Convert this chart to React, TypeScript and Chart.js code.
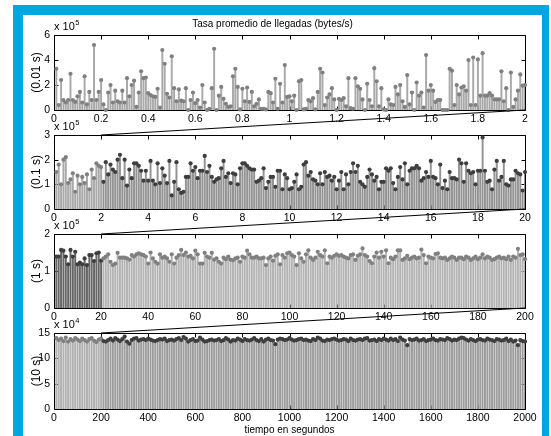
import React, { useEffect, useRef } from 'react';
import { Chart, registerables } from 'chart.js';

Chart.register(...registerables);

const FONT = '"Liberation Sans", Arial, Helvetica, sans-serif';
const BLUE = '#00a5e3';
const WIDTH = 551;
const HEIGHT = 436;

// Mean arrival rate, averaged over windows of 0.01 s (x 1e5 bytes/s)
const RATE_10MS = [
  3.3, 0.4, 2.4, 0.8, 0.6, 0.8, 2.9, 0.8, 0.65, 1.1,
  1.45, 0.6, 2.7, 0.45, 1.45, 0.8, 5.2, 0.8, 1.45, 2.4,
  0.45, 0, 1.4, 2.0, 0.6, 1.55, 0.7, 0.6, 1.55, 0.6,
  2.55, 1.1, 2.0, 2.35, 0.25, 1.4, 3.1, 2.55, 2.6, 1.35,
  1.2, 1.1, 1.05, 1.7, 0.2, 4.8, 3.7, 1.3, 1.0, 4.3,
  1.75, 0.7, 1.65, 0.75, 0.7, 1.75, 0, 0.8, 1.4, 0.55,
  0.8, 0.2, 2.0, 0.6, 0, 0.1, 1.75, 4.9, 0, 1.15,
  1.85, 0.9, 0.5, 0.25, 0.3, 2.7, 3.3, 1.85, 0.05, 1.7,
  0.7, 1.8, 0.65, 1.45, 0.3, 0.5, 0.85, 0.1, 0.1, 0.05,
  1.45, 1.35, 0.6, 2.5, 0.1, 2.1, 0.6, 3.6, 1.05, 1.1,
  0.7, 1.15, 0, 2.3, 2.4, 0.05, 0.1, 0.8, 0.7, 0.95,
  0.05, 1.45, 3.3, 3.0, 0.4, 1.0, 1.25, 1.75, 0.85, 0,
  0.9, 0.8, 0.95, 0.3, 2.55, 0.15, 0.1, 2.55, 1.9, 1.7,
  0.85, 0, 2.1, 0.8, 0.3, 3.35, 2.3, 0.3, 1.75, 0.05,
  0, 0.85, 0.45, 0.4, 1.85, 1.25, 2.0, 0.7, 0.25, 2.8,
  0.45, 1.4, 0, 2.2, 1.15, 1.4, 0.2, 4.4, 1.55, 2.0,
  1.55, 0.65, 0.8, 0.8, 0, 0, 0, 3.3, 3.15, 0.4,
  2.0, 1.25, 1.8, 1.9, 1.55, 4.0, 0.4, 4.2, 0.4, 4.05,
  1.15, 4.55, 1.15, 1.15, 1.35, 1.15, 0.85, 0.85, 0.85, 3.1,
  0.7, 1.75, 0, 3.0, 0.25, 0.85, 1.55, 2.85, 1.95, 2.0,
];

// Windows of 0.1 s (x 1e5 bytes/s)
const RATE_100MS = [
  1.5, 1.8, 1.0, 2.0, 2.1, 1.05, 1.2, 1.45, 0.7, 1.35,
  1.0, 1.3, 1.05, 1.4, 0.8, 1.6, 1.25, 1.85, 1.75, 1.7,
  1.1, 1.9, 1.4, 1.8, 1.6, 1.5, 2.0, 2.2, 1.25, 2.0,
  0.95, 1.6, 1.25, 1.85, 1.85, 1.75, 1.55, 1.15, 1.55, 1.15,
  1.95, 1.15, 1.0, 1.85, 1.05, 1.65, 1.35, 1.05, 1.95, 0.55,
  1.1, 1.9, 0.8, 0.65, 0.7, 1.3, 1.3, 1.85, 1.55, 1.7,
  1.25, 1.55, 1.55, 2.15, 1.5, 1.75, 1.3, 1.1, 1.2, 1.25,
  1.65, 1.95, 1.3, 1.45, 1.05, 1.45, 1.4, 1.0, 1.65, 1.85,
  1.85, 1.75, 1.65, 1.6, 1.6, 1.1, 1.15, 1.25, 1.65, 0.85,
  1.1, 1.3, 1.3, 0.9, 1.55, 1.55, 0.8, 1.4, 1.25, 0.8,
  0.85, 1.1, 1.4, 0.8, 0.9, 1.8, 1.9, 1.35, 1.5, 1.2,
  1.15, 1.0, 1.45, 1.0, 1.5, 1.3, 1.35, 1.15, 1.3, 0.8,
  1.15, 1.5, 0.8, 1.4, 1.0, 1.5, 1.85, 1.5, 1.75, 1.1,
  1.0, 0.9, 1.3, 1.6, 1.4, 1.15, 1.3, 0.8, 1.1, 1.1,
  1.65, 1.55, 1.65, 1.05, 0.8, 1.3, 1.7, 1.2, 1.85, 1.0,
  1.55, 1.65, 1.65, 1.75, 1.65, 1.15, 1.25, 1.5, 1.3, 1.95,
  1.3, 1.25, 1.0, 1.8, 0.85, 1.15, 0.8, 1.5, 1.25, 1.25,
  1.2, 2.0, 1.85, 1.1, 1.85, 1.55, 1.45, 1.5, 1.0, 1.55,
  1.55, 2.9, 1.55, 1.1, 1.15, 0.8, 1.6, 1.95, 1.15, 1.3,
  1.95, 1.0, 0.95, 1.2, 1.2, 1.55, 1.45, 1.4, 0.75, 1.5,
];

// Windows of 1 s (x 1e5 bytes/s)
const RATE_1S = [
  1.39, 1.39, 1.57, 1.55, 1.39, 1.18, 1.57, 1.39, 1.52, 1.18,
  1.23, 1.18, 1.34, 1.16, 1.43, 1.43, 1.27, 1.48, 1.50, 1.28,
  1.34, 1.39, 1.45, 1.25, 1.16, 1.20, 1.49, 1.36, 1.36, 1.36,
  1.34, 1.31, 1.43, 1.39, 1.45, 1.48, 1.45, 1.43, 1.39, 1.20,
  1.50, 1.34, 1.25, 1.20, 1.45, 1.36, 1.39, 1.34, 1.25, 1.45,
  1.20, 1.36, 1.43, 1.57, 1.43, 1.50, 1.39, 1.41, 1.34, 1.55,
  1.45, 1.20, 1.20, 1.49, 1.39, 1.36, 1.49, 1.31, 1.34, 1.25,
  1.20, 1.36, 1.32, 1.39, 1.31, 1.29, 1.34, 1.36, 1.25, 1.39,
  1.36, 1.55, 1.45, 1.36, 1.36, 1.39, 1.34, 1.34, 1.36, 1.16,
  1.34, 1.39, 1.28, 1.41, 1.45, 1.18, 1.43, 1.36, 1.48, 1.50,
  1.43, 1.39, 1.16, 1.48, 1.34, 1.25, 1.45, 1.56, 1.36, 1.30,
  1.36, 1.52, 1.43, 1.39, 1.56, 1.21, 1.39, 1.36, 1.41, 1.45,
  1.41, 1.43, 1.39, 1.36, 1.34, 1.43, 1.45, 1.30, 1.41, 1.45,
  1.61, 1.43, 1.39, 1.27, 1.21, 1.39, 1.50, 1.36, 1.52, 1.39,
  1.56, 1.21, 1.36, 1.32, 1.39, 1.56, 1.56, 1.30, 1.34, 1.41,
  1.32, 1.36, 1.39, 1.34, 1.36, 1.58, 1.43, 1.21, 1.39, 1.36,
  1.34, 1.46, 1.48, 1.36, 1.34, 1.36, 1.30, 1.34, 1.39, 1.36,
  1.30, 1.36, 1.36, 1.32, 1.39, 1.36, 1.30, 1.34, 1.39, 1.32,
  1.36, 1.45, 1.34, 1.39, 1.36, 1.30, 1.32, 1.36, 1.39, 1.34,
  1.36, 1.32, 1.39, 1.30, 1.39, 1.36, 1.60, 1.43, 1.45, 1.32,
];

// Windows of 10 s (x 1e4 bytes/s)
const RATE_10S = [
  14.0, 13.6, 13.9, 13.4, 14.1, 13.3, 13.8, 13.5, 14.0, 13.7,
  13.4, 13.9, 13.6, 13.3, 13.8, 14.0, 13.5, 13.2, 13.7, 13.9,
  13.4, 13.3, 13.6, 13.9, 13.5, 14.0, 13.7, 13.4, 13.8, 14.3,
  13.3, 12.9, 13.6, 13.9, 14.0, 13.5, 13.7, 13.8, 13.6, 13.9,
  13.7, 13.5, 13.4, 13.6, 13.8, 13.7, 13.9, 13.4, 13.6, 13.7,
  13.5, 13.8, 14.0, 13.6, 14.2, 13.9, 13.3, 13.6, 13.8, 13.4,
  13.5, 14.1, 13.7, 13.3, 13.4, 13.6, 13.7, 13.5, 13.6, 13.8,
  13.4, 13.6, 14.0, 13.7, 13.3, 13.6, 13.5, 13.9, 13.7, 13.4,
  13.8, 13.6, 13.5, 13.7, 14.0, 13.6, 13.4, 13.8, 13.3, 13.7,
  13.9, 13.6, 13.5, 12.8, 13.7, 13.9, 13.8, 13.6, 13.7, 14.0,
  13.7, 13.5, 13.6, 13.8, 13.9, 13.6, 13.7, 13.5, 13.4, 13.8,
  13.6, 14.1, 13.9, 13.5, 13.4, 13.7, 13.6, 13.8, 13.9, 13.7,
  13.5, 13.6, 13.8, 13.7, 13.4, 13.9, 13.6, 13.5, 13.7, 13.8,
  13.6, 13.9, 14.0, 13.5, 13.6, 13.7, 13.4, 13.8, 13.6, 13.9,
  13.7, 13.5, 13.9, 13.6, 13.8, 13.4, 14.1, 13.7, 13.5, 12.6,
  13.8, 13.6, 13.7, 13.9, 13.5, 13.6, 13.8, 13.4, 13.6, 13.7,
  13.9, 13.6, 13.5, 13.8, 13.7, 13.6, 14.0, 13.8, 13.5, 13.7,
  13.6, 13.9, 14.1, 14.0, 13.7, 13.5, 13.8, 13.6, 13.4, 13.7,
  13.8, 13.6, 13.5, 13.9, 13.7, 13.6, 13.4, 13.8, 13.7, 13.5,
  13.6, 13.9, 13.4, 13.7, 13.3, 13.5, 12.6, 13.6, 13.4, 13.3,
];

const TITLE = 'Tasa promedio de llegadas (bytes/s)';
const X_LABEL = 'tiempo en segundos';
const Y_LABELS = ['(0.01 s)', '(0.1 s)', '(1 s)', '(10 s)'];
const EXPONENTS = ['5', '5', '5', '4'];
const STEPS = [0.01, 0.1, 1, 10];
const X_MAX = [2, 20, 200, 2000];
const X_TICK_STEP = [0.2, 2, 20, 200];
const Y_MAX = [6, 3, 2, 15];
const Y_TICK_STEP = [2, 1, 1, 5];

// First 20 samples of each panel cover the whole span of the panel above
const HEAD = 20;

const GRAY_MARK = '#808080';
const DARK_MARK = '#3e3e3e';

type PanelSpec = {
  values: number[];
  step: number;
  xMax: number;
  xTick: number;
  yMax: number;
  yTick: number;
  yLabel: string;
  exponent: string;
  top: number;
  bottom: number;
  title?: string;
  xLabel?: string;
  prevBottom?: number;
  zoomTo?: number;
  headMark: string;
  headStem: string;
  mainMark: string;
  mainStem: string;
};

const PLOT_LEFT = 54;
const PLOT_RIGHT = 525;
const PAD_LEFT = 20;
const TOPS = [35, 135, 234, 333];
const BOTTOMS = [110, 209, 308, 409];

const PANELS: PanelSpec[] = [
  {
    values: RATE_10MS, step: STEPS[0], xMax: X_MAX[0], xTick: X_TICK_STEP[0], yMax: Y_MAX[0], yTick: Y_TICK_STEP[0],
    yLabel: Y_LABELS[0], exponent: EXPONENTS[0], top: TOPS[0], bottom: BOTTOMS[0], title: TITLE,
    headMark: GRAY_MARK, headStem: '#a9a9a9', mainMark: GRAY_MARK, mainStem: '#a9a9a9',
  },
  {
    values: RATE_100MS, step: STEPS[1], xMax: X_MAX[1], xTick: X_TICK_STEP[1], yMax: Y_MAX[1], yTick: Y_TICK_STEP[1],
    yLabel: Y_LABELS[1], exponent: EXPONENTS[1], top: TOPS[1], bottom: BOTTOMS[1],
    prevBottom: BOTTOMS[0], zoomTo: X_MAX[0],
    headMark: GRAY_MARK, headStem: '#a9a9a9', mainMark: DARK_MARK, mainStem: '#939393',
  },
  {
    values: RATE_1S, step: STEPS[2], xMax: X_MAX[2], xTick: X_TICK_STEP[2], yMax: Y_MAX[2], yTick: Y_TICK_STEP[2],
    yLabel: Y_LABELS[2], exponent: EXPONENTS[2], top: TOPS[2], bottom: BOTTOMS[2],
    prevBottom: BOTTOMS[1], zoomTo: X_MAX[1],
    headMark: DARK_MARK, headStem: '#666666', mainMark: GRAY_MARK, mainStem: '#b4b4b4',
  },
  {
    values: RATE_10S, step: STEPS[3], xMax: X_MAX[3], xTick: X_TICK_STEP[3], yMax: Y_MAX[3], yTick: Y_TICK_STEP[3],
    yLabel: Y_LABELS[3], exponent: EXPONENTS[3], top: TOPS[3], bottom: BOTTOMS[3], xLabel: X_LABEL,
    prevBottom: BOTTOMS[2], zoomTo: X_MAX[2],
    headMark: GRAY_MARK, headStem: '#b0b0b0', mainMark: DARK_MARK, mainStem: '#9c9c9c',
  },
];

const TICK_LEN = 4;
const TICK_FONT = 10.5;
const Y_TITLE_FONT = 12;

const fmt = (v: number) => String(Number(Number(v).toFixed(2)));

// Box and inward ticks on all four sides, drawn under the stems
const frameBeforePlugin = {
  id: 'frameBefore',
  beforeDatasetsDraw(chart: any) {
    const { ctx, chartArea: a, scales } = chart;
    const xs = scales.x;
    const ys = scales.y;
    const L = Math.round(a.left) + 0.5;
    const R = Math.round(a.right) + 0.5;
    const T = Math.round(a.top) + 0.5;
    const B = Math.round(a.bottom) + 0.5;
    ctx.save();
    ctx.strokeStyle = '#000';
    ctx.lineWidth = 1;
    ctx.beginPath();
    ctx.rect(L, T, R - L, B - T);
    for (const t of xs.ticks) {
      const px = Math.round(xs.getPixelForValue(t.value)) + 0.5;
      ctx.moveTo(px, T);
      ctx.lineTo(px, T + TICK_LEN);
      ctx.moveTo(px, B);
      ctx.lineTo(px, B - TICK_LEN);
    }
    for (const t of ys.ticks) {
      const py = Math.round(ys.getPixelForValue(t.value)) + 0.5;
      ctx.moveTo(L, py);
      ctx.lineTo(L + TICK_LEN, py);
      ctx.moveTo(R, py);
      ctx.lineTo(R - TICK_LEN, py);
    }
    ctx.stroke();
    ctx.restore();
  },
};

// The "x 10^n" multiplier and the connector to the window shown by the panel above
const frameAfterPlugin = {
  id: 'frameAfter',
  afterDraw(chart: any, _args: any, opts: any) {
    const { ctx, chartArea: a, scales } = chart;
    ctx.save();
    ctx.fillStyle = '#000';
    ctx.textAlign = 'left';
    ctx.textBaseline = 'alphabetic';
    ctx.font = `11px ${FONT}`;
    const base = 'x 10';
    ctx.fillText(base, a.left, a.top - 5);
    const w = ctx.measureText(base).width;
    ctx.font = `7.5px ${FONT}`;
    ctx.fillText(opts.exponent, a.left + w + 0.5, a.top - 10);
    if (opts.zoomTo != null) {
      ctx.strokeStyle = '#000';
      ctx.lineWidth = 1;
      ctx.beginPath();
      ctx.moveTo(scales.x.getPixelForValue(opts.zoomTo), a.top);
      ctx.lineTo(a.right, opts.prevBottom);
      ctx.stroke();
    }
    ctx.restore();
  },
};

function StemPanel({ spec }: { spec: PanelSpec }) {
  const ref = useRef<HTMLCanvasElement | null>(null);

  useEffect(() => {
    if (!ref.current) return;
    const points = spec.values.map((v, i) => ({ x: (i + 1) * spec.step, y: v }));
    const markColors = spec.values.map((_, i) => (i < HEAD ? spec.headMark : spec.mainMark));
    const stemColors = spec.values.map((_, i) => (i < HEAD ? spec.headStem : spec.mainStem));
    const xAxisHeight = spec.xLabel ? 27 : 20;
    const padTop = spec.title ? 15 : spec.top;
    const padBottom = HEIGHT - spec.bottom - xAxisHeight;

    const chart = new Chart(ref.current, {
      type: 'scatter',
      data: {
        datasets: [
          {
            type: 'bar',
            data: points,
            backgroundColor: stemColors,
            borderWidth: 0,
            barThickness: 1.3,
            grouped: false,
            order: 2,
          } as any,
          {
            type: 'scatter',
            data: points,
            pointRadius: 2.1,
            pointHoverRadius: 2.1,
            pointBackgroundColor: markColors,
            pointBorderColor: markColors,
            pointBorderWidth: 0,
            showLine: false,
            clip: false,
            order: 1,
          } as any,
        ],
      },
      options: {
        responsive: false,
        animation: false,
        events: [],
        layout: {
          padding: { left: PAD_LEFT, right: WIDTH - PLOT_RIGHT, top: padTop, bottom: padBottom },
        },
        plugins: {
          legend: { display: false },
          tooltip: { enabled: false },
          title: {
            display: !!spec.title,
            text: spec.title || '',
            color: '#000',
            font: { family: FONT, size: 10, weight: 'normal' },
            padding: { top: 3, bottom: 5 },
          },
          frameAfter: { exponent: spec.exponent, zoomTo: spec.zoomTo, prevBottom: spec.prevBottom },
        } as any,
        scales: {
          x: {
            type: 'linear',
            min: 0,
            max: spec.xMax,
            offset: false,
            grid: { display: false, drawTicks: false },
            border: { display: false },
            ticks: {
              stepSize: spec.xTick,
              autoSkip: false,
              maxRotation: 0,
              minRotation: 0,
              padding: 3,
              color: '#000',
              font: { family: FONT, size: TICK_FONT },
              callback: (v: any) => fmt(v),
            },
            title: {
              display: !!spec.xLabel,
              text: spec.xLabel || '',
              color: '#000',
              font: { family: FONT, size: 10 },
              padding: { top: 0, bottom: 0 },
            },
            afterFit: (s: any) => {
              s.height = xAxisHeight;
            },
          },
          y: {
            type: 'linear',
            min: 0,
            max: spec.yMax,
            grid: { display: false, drawTicks: false },
            border: { display: false },
            ticks: {
              stepSize: spec.yTick,
              padding: 4,
              color: '#000',
              font: { family: FONT, size: TICK_FONT },
              callback: (v: any) => fmt(v),
            },
            title: {
              display: true,
              text: spec.yLabel,
              color: '#000',
              font: { family: FONT, size: Y_TITLE_FONT },
              padding: { top: 37 - PAD_LEFT - (Y_TITLE_FONT * 1.2) / 2, bottom: 0 },
            },
            afterFit: (s: any) => {
              s.width = PLOT_LEFT - PAD_LEFT;
            },
          },
        },
      } as any,
      plugins: [frameBeforePlugin, frameAfterPlugin],
    });
    return () => chart.destroy();
  }, [spec]);

  return (
    <canvas
      ref={ref}
      width={WIDTH}
      height={HEIGHT}
      style={{ position: 'absolute', left: 0, top: 0, width: WIDTH, height: HEIGHT }}
    />
  );
}

export default function App() {
  return (
    <div
      style={{
        position: 'absolute',
        left: 0,
        top: 0,
        width: WIDTH,
        height: HEIGHT,
        background: '#ffffff',
        overflow: 'hidden',
      }}
    >
      <div style={{ position: 'absolute', left: 13, top: 5, width: 536, height: 460, background: BLUE }} />
      <div style={{ position: 'absolute', left: 23, top: 15, width: 519, height: 460, background: '#ffffff' }} />
      {PANELS.map((p, i) => (
        <StemPanel key={i} spec={p} />
      ))}
    </div>
  );
}
